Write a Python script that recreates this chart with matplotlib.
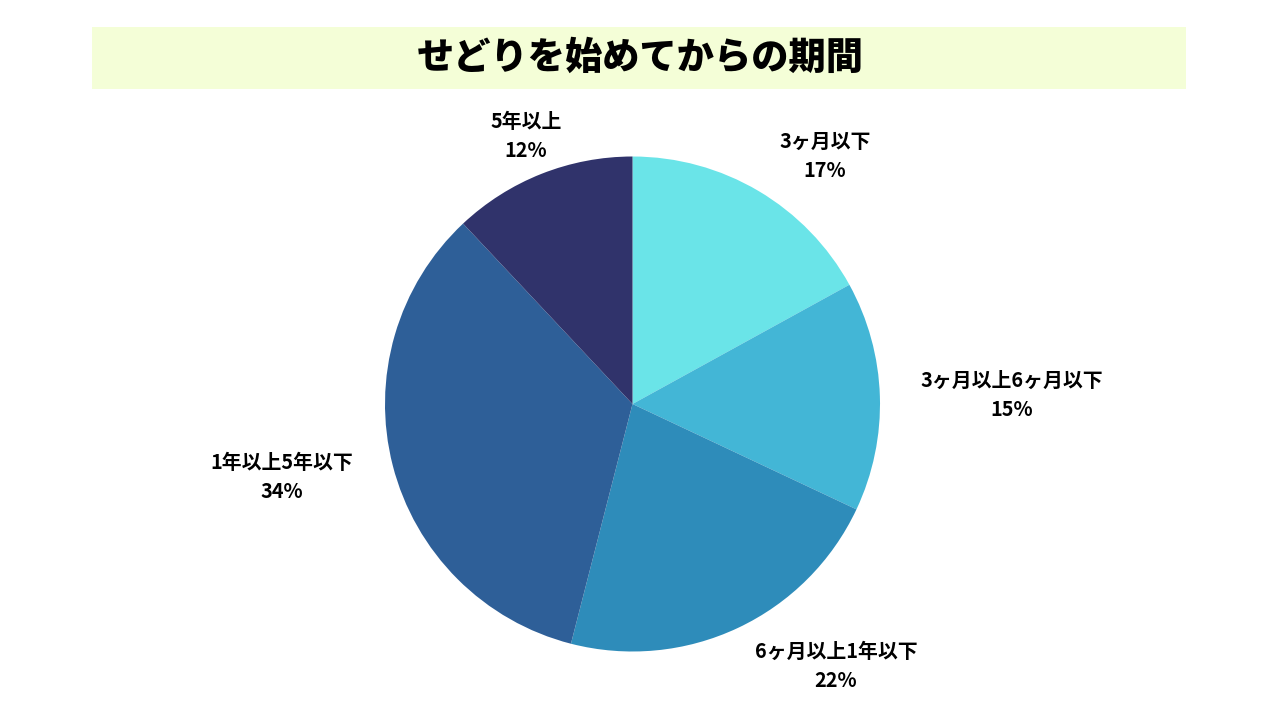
import matplotlib
matplotlib.use("Agg")
import matplotlib.pyplot as plt
from matplotlib.patches import Rectangle

plt.rcParams['font.family'] = ['Noto Sans CJK JP', 'DejaVu Sans']

title = "せどりを始めてからの期間"
categories = ["3ヶ月以下", "3ヶ月以上6ヶ月以下", "6ヶ月以上1年以下", "1年以上5年以下", "5年以上"]
values = [17, 15, 22, 34, 12]
colors = ["#6ae4e8", "#43b6d6", "#2e8cba", "#2e5f98", "#30336b"]

W, H = 1280, 720
fig = plt.figure(figsize=(12.8, 7.2), dpi=100)
fig.patch.set_facecolor("white")
ax = fig.add_axes([0, 0, 1, 1])

cx, cy, R = 632.5, H - 404, 247.5
ax.pie(values, colors=colors, startangle=90, counterclock=False,
       center=(cx, cy), radius=R, wedgeprops=dict(linewidth=0))
ax.set_xlim(0, W)
ax.set_ylim(0, H)
ax.set_aspect("equal")
ax.axis("off")

# title band
ax.add_patch(Rectangle((92, H - 89), 1094, 62, facecolor="#f4fed7", edgecolor="none", zorder=0))
ax.text(640, H - 58, title, ha="center", va="center", fontsize=26.8,
        fontweight="heavy", color="black")

# label positions (pixel layout, top-left origin)
label_pos = [(825, 156), (1012, 395), (836, 666), (282, 477), (526, 136)]
for (lx, ly), cat, v in zip(label_pos, categories, values):
    ax.text(lx, H - ly, f"{cat}\n{v}%", ha="center", va="center",
            fontsize=14.3, fontweight="bold", color="black", linespacing=1.45)

fig.savefig("out.png", dpi=100, facecolor="white")
